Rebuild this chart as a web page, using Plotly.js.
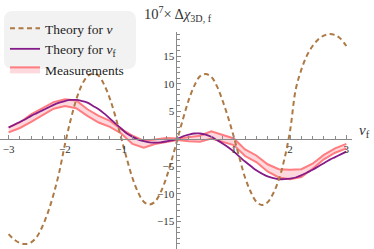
<!DOCTYPE html>
<html>
<head>
<meta charset="utf-8">
<script src="https://cdn.plot.ly/plotly-3.0.1.min.js"></script>
<style>html,body{margin:0;padding:0;background:#fff}#chart{width:374px;height:249px}</style>
</head>
<body>
<div id="chart"></div>
<script>
// ---- data ----
const xNu = [-3.0,-2.9,-2.8,-2.7,-2.6,-2.5,-2.4,-2.3,-2.2,-2.1,-2.0,-1.9,-1.8,-1.7,-1.6,-1.5,-1.4,-1.3,-1.2,-1.1,-1.0,-0.9,-0.8,-0.7,-0.6,-0.5,-0.4,-0.3,-0.2,-0.1,0.0,0.1,0.2,0.3,0.4,0.5,0.6,0.7,0.8,0.9,1.0,1.1,1.2,1.3,1.4,1.5,1.6,1.7,1.8,1.9,2.0,2.1,2.2,2.3,2.4,2.5,2.6,2.7,2.8,2.9,3.0];
const theoryNu = [-17.3,-18.3,-18.9,-19.1,-18.8,-17.8,-15.9,-13.3,-10.0,-6.0,-1.0,3.4,7.1,9.8,11.4,11.9,11.5,9.8,7.3,4.0,0.2,-3.6,-7.1,-9.7,-11.4,-11.9,-11.4,-9.7,-7.1,-3.7,0.0,3.7,7.1,9.7,11.4,11.8,11.3,9.6,7.0,3.9,0.4,-3.4,-7.0,-9.6,-11.4,-12.0,-11.5,-9.9,-7.4,-3.6,1.5,9.0,12.6,15.2,16.9,18.1,18.8,19.1,18.9,18.2,16.9];
const theoryNuF = [2.1,2.6,3.1,3.6,4.2,4.7,5.2,5.7,6.2,6.6,6.9,7.1,7.1,6.9,6.6,6.0,5.4,4.6,3.7,2.8,1.9,1.0,0.4,-0.1,-0.4,-0.6,-0.65,-0.6,-0.45,-0.25,0.0,0.5,0.8,1.0,1.0,0.8,0.4,-0.2,-0.8,-1.5,-2.3,-3.2,-4.1,-4.9,-5.7,-6.3,-6.8,-7.1,-7.3,-7.3,-7.2,-7.0,-6.6,-6.1,-5.6,-5.0,-4.4,-3.8,-3.3,-2.8,-2.3];
const xMeas = [-3.0,-2.8,-2.6,-2.4,-2.2,-2.0,-1.8,-1.6,-1.4,-1.2,-1.0,-0.8,-0.6,-0.4,-0.2,0.0,0.2,0.4,0.6,0.8,1.0,1.2,1.4,1.6,1.8,2.0,2.2,2.4,2.6,2.8,3.0];
const measUpper = [2.1,3.0,4.5,5.6,6.7,7.2,7.0,5.4,4.2,3.3,1.8,0.6,-0.3,-0.1,0.2,0.1,0.3,0.6,1.4,0.8,0.1,-1.9,-3.0,-4.6,-5.5,-5.6,-5.5,-4.5,-2.9,-1.7,-0.9];
const measLower = [1.2,2.0,3.1,4.3,5.5,6.0,5.6,4.2,3.0,2.2,1.0,-0.9,-1.6,-0.9,-0.5,-0.2,-0.4,-0.5,0.1,-0.5,-1.1,-3.1,-4.2,-5.9,-7.0,-7.3,-6.9,-5.4,-3.7,-2.5,-1.7];
const xTicks = [-3,-2,-1,1,2,3];
const yTicks = [-15,-10,-5,5,10,15];
const xTickText = ['\u22123','\u22122','\u22121','1','2','3'];
const yTickText = ['\u221215','\u221210','\u22125','5','10','15'];
const names = ['Theory for <i>\u03bd</i>','Theory for <i>\u03bd</i><sub>f</sub>','Measurements'];

// ---- geometry ----
const W = 374, H = 249;
const M = {l:0, r:22, t:32, b:0};
const PW = W - M.l - M.r, PH = H - M.t - M.b;
const xRange = [-3.153, 3.1];
const yRange = [-20, 19.45];
const px2x = p => (p - M.l) / PW;
const py2y = p => (H - M.b - p) / PH;

function roundRect(x0, y0, x1, y1, r) {
  const X = px2x, Y = py2y;
  return 'M' + X(x0 + r) + ',' + Y(y0) +
    ' L' + X(x1 - r) + ',' + Y(y0) +
    ' Q' + X(x1) + ',' + Y(y0) + ' ' + X(x1) + ',' + Y(y0 + r) +
    ' L' + X(x1) + ',' + Y(y1 - r) +
    ' Q' + X(x1) + ',' + Y(y1) + ' ' + X(x1 - r) + ',' + Y(y1) +
    ' L' + X(x0 + r) + ',' + Y(y1) +
    ' Q' + X(x0) + ',' + Y(y1) + ' ' + X(x0) + ',' + Y(y1 - r) +
    ' L' + X(x0) + ',' + Y(y0 + r) +
    ' Q' + X(x0) + ',' + Y(y0) + ' ' + X(x0 + r) + ',' + Y(y0) + ' Z';
}

const serif = 'Liberation Serif';
const pink = '#ff7c80';
const axCol = '#8a8a8a';

const xPos = (0 - yRange[0]) / (yRange[1] - yRange[0]);
const yPos = (0 - xRange[0]) / (xRange[1] - xRange[0]);
const tickFont = {family: serif, size: 11, color: '#333'};

const traces = [
  {x: xMeas, y: measLower, mode: 'lines', line: {color: pink, width: 2}, showlegend: false, hoverinfo: 'skip'},
  {x: xMeas, y: measUpper, mode: 'lines', line: {color: pink, width: 2}, fill: 'tonexty', fillcolor: 'rgba(252,208,212,0.8)',
   name: names[2], legendrank: 3},
  {x: xNu, y: theoryNuF, mode: 'lines', line: {color: '#861a88', width: 1.8, shape: 'spline'}, name: names[1], legendrank: 2},
  {x: xNu, y: theoryNu, mode: 'lines', line: {color: '#ad7a45', width: 2, dash: '5px,3.5px', shape: 'spline'}, name: names[0], legendrank: 1},
  // empty carrier that registers the helper subplot (draws nothing)
  {x: [null], y: [null], xaxis: 'x2', yaxis: 'y', mode: 'lines', showlegend: false, hoverinfo: 'skip'}
];

const layout = {
  width: W, height: H, margin: M,
  paper_bgcolor: '#fff', plot_bgcolor: 'rgba(0,0,0,0)',
  showlegend: true,
  font: {family: serif},
  xaxis: {
    domain: [0, 1], range: xRange, anchor: 'free', position: xPos, side: 'bottom',
    showgrid: false, zeroline: false, showline: true, linecolor: axCol, linewidth: 1,
    ticks: 'inside', ticklen: 4, tickcolor: axCol, tickwidth: 1,
    tickmode: 'array', tickvals: xTicks, ticktext: xTickText, tickfont: tickFont,
    minor: {tickmode: 'linear', tick0: 0, dtick: 0.2, ticks: 'inside', ticklen: 2.5, tickcolor: axCol, showgrid: false}
  },
  // helper axis whose left edge sits at x = 0, so the y axis crosses at the origin
  xaxis2: {domain: [yPos, 1], range: [0, 1], anchor: 'y',
    showgrid: false, zeroline: false, showline: false, showticklabels: false, ticks: ''},
  yaxis: {
    range: yRange, anchor: 'x2', side: 'left',
    showgrid: false, zeroline: false, showline: true, linecolor: axCol, linewidth: 1,
    ticks: 'inside', ticklen: 4, tickcolor: axCol, tickwidth: 1,
    tickmode: 'array', tickvals: yTicks, ticktext: yTickText, tickfont: tickFont,
    minor: {tickmode: 'linear', tick0: 0, dtick: 1, ticks: 'inside', ticklen: 2.5, tickcolor: axCol, showgrid: false}
  },
  legend: {
    x: px2x(5), y: py2y(13), xanchor: 'left', yanchor: 'top', traceorder: 'normal',
    bgcolor: 'rgba(0,0,0,0)', borderwidth: 0,
    font: {family: serif, size: 13.5, color: '#222'},
    tracegroupgap: 0, itemwidth: 30
  },
  shapes: [{
    type: 'path', xref: 'paper', yref: 'paper', layer: 'below',
    path: roundRect(4, 11, 136, 69, 9), fillcolor: '#f2f2f2', line: {width: 0}
  }],
  annotations: [
    {text: '10<sup>7</sup>\u00d7 \u0394<i>\u03c7</i><sub>3D, f</sub>', xref: 'paper', yref: 'paper',
     x: px2x(178), y: py2y(14), xanchor: 'center', yanchor: 'middle', showarrow: false,
     font: {family: serif, size: 14.5, color: '#333'}},
    {text: '<i>\u03bd</i><sub>f</sub>', xref: 'paper', yref: 'paper',
     x: px2x(364), y: py2y(131), xanchor: 'center', yanchor: 'middle', showarrow: false,
     font: {family: serif, size: 15, color: '#333'}}
  ]
};

Plotly.newPlot('chart', traces, layout, {displayModeBar: false, staticPlot: true});
</script>
</body>
</html>
